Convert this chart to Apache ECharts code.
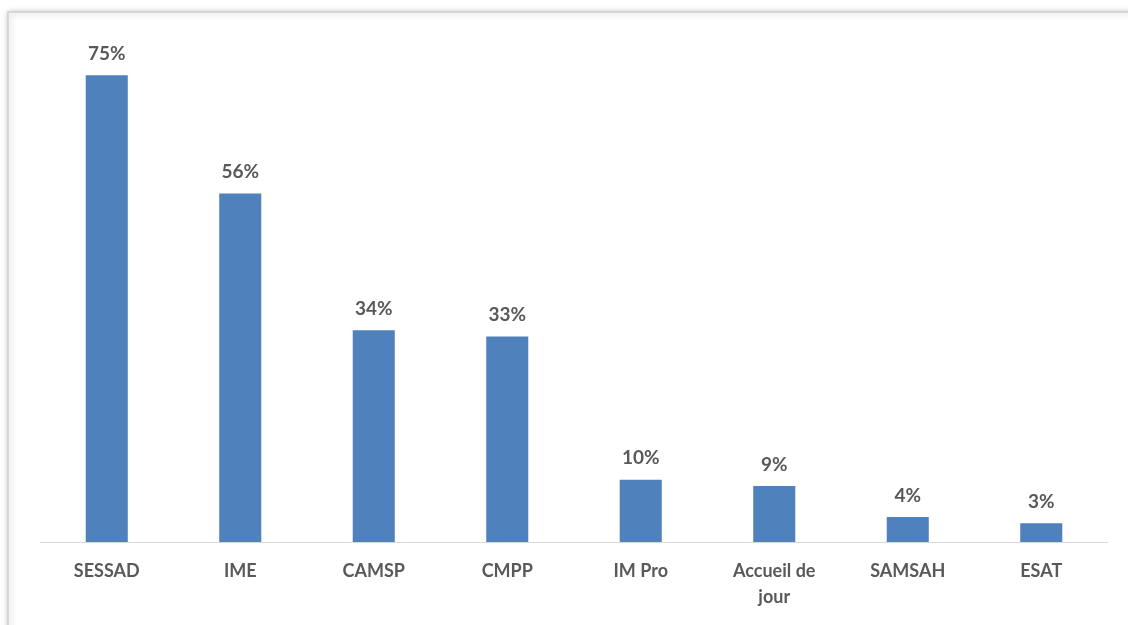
<!DOCTYPE html>
<html>
<head>
<meta charset="utf-8">
<script src="https://cdn.jsdelivr.net/npm/echarts@6/dist/echarts.min.js"></script>
<style>
html,body{margin:0;padding:0;background:#fff;}
#chart{width:1128px;height:625px;}
</style>
</head>
<body>
<div id="chart"></div>
<script>
const categories = ["SESSAD", "IME", "CAMSP", "CMPP", "IM Pro", "Accueil de\njour", "SAMSAH", "ESAT"];
const values = [75, 56, 34, 33, 10, 9, 4, 3];

const chart = echarts.init(document.getElementById('chart'));
chart.setOption({
  animation: false,
  backgroundColor: '#ffffff',
  graphic: [
    {
      type: 'rect',
      shape: { x: 8, y: 12, width: 1200, height: 700 },
      style: { fill: '#ffffff', stroke: '#d0d0d0', lineWidth: 1.5, shadowBlur: 6, shadowColor: 'rgba(0,0,0,0.25)', shadowOffsetX: 1, shadowOffsetY: 1 },
      z: -10
    }
  ],
  grid: { left: 40, right: 20, top: 44, bottom: 83, containLabel: false },
  xAxis: {
    type: 'category',
    data: categories,
    axisLine: { lineStyle: { color: '#d9d9d9', width: 1 } },
    axisTick: { show: false },
    axisLabel: {
      color: '#595959', fontFamily: 'Lato', fontWeight: 'bold', fontSize: 18,
      margin: 16, lineHeight: 26, interval: 0
    }
  },
  yAxis: {
    type: 'value', min: 0, max: 80,
    show: false,
    splitLine: { show: false }
  },
  series: [{
    type: 'bar',
    data: values,
    barWidth: '31.5%',
    itemStyle: { color: '#4F81BD' },
    label: {
      show: true, position: 'top', distance: 12,
      formatter: p => p.value + '%',
      color: '#595959', fontFamily: 'Lato', fontWeight: 'bold', fontSize: 19
    }
  }]
});
</script>
</body>
</html>
